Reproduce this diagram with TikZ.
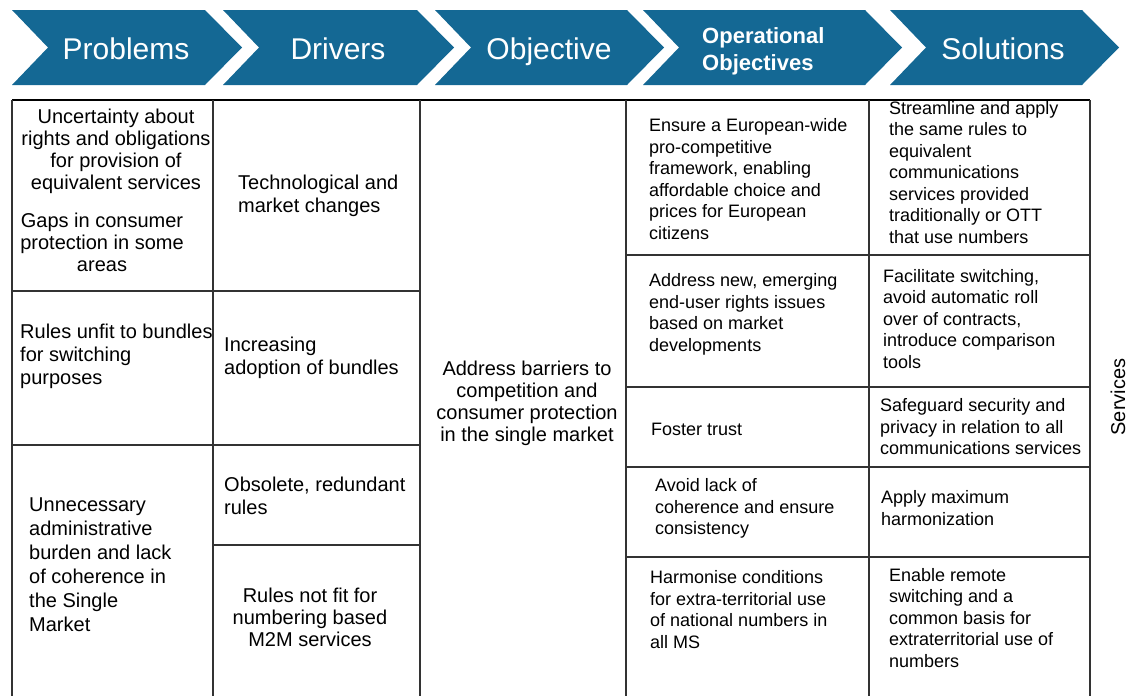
\documentclass[tikz,border=0pt]{standalone}
\usepackage{fontspec}
\setmainfont{Liberation Sans}
\usetikzlibrary{positioning}
\definecolor{chevblue}{RGB}{20,104,148}

\begin{document}
\begin{tikzpicture}[x=1pt,y=-1pt,every node/.style={inner sep=0pt},
  head/.style={text=white,anchor=base,font=\fontsize{30}{34}\selectfont},
  cell/.style={align=left,anchor=west,font=\fontsize{20}{23}\selectfont},
  cellc/.style={align=center,font=\fontsize{20}{22}\selectfont},
  small/.style={align=left,anchor=west,font=\fontsize{18}{21.5}\selectfont},
  rule/.style={draw=black!80,line width=1.1pt}]
\useasboundingbox (0,0) rectangle (1129,696);
% chevrons
\foreach \x/\w in {12/193,223/194,435/192,643/222,890/192}
  \fill[chevblue] (\x,10) -- ++(\w,0) -- ++(37,37.5) -- ++(-37,37.5)
    -- (\x,85) -- ++(36,-37.5) -- cycle;
\node[head] (problems) at (126,59) {Problems};
\node[head] (drivers) at (338,59) {Drivers};
\node[head] (objective) at (549,59) {Objective};
\node[head,font=\bfseries\fontsize{22}{27}\selectfont,align=left,anchor=west]
  (operational) at (702,51) {Operational\\Objectives};
\node[head] (solutions) at (1003,59) {Solutions};
% table
\draw[line width=2pt] (12,100) -- (1090,100);
\foreach \x in {12,213,420,626,869,1090}
  \draw[rule] (\x,100) -- (\x,696);
\foreach \y in {291,445}
  \draw[rule] (12,\y) -- (420,\y);
\draw[rule] (213,545) -- (420,545);
\foreach \y in {255,387,467,557}
  \draw[rule] (626,\y) -- (1090,\y);
% problems
\node[cellc] (uncert) at (116,151) {Uncertainty about\\rights and obligations\\for provision of\\equivalent services};
\node[cellc] (gaps) at (102,242) {Gaps in consumer\\protection in some\\areas};
\node[cell] (unfit) at (20,356) {Rules unfit to bundles\\for switching\\purposes};
\node[cell,font=\fontsize{20}{24}\selectfont] (unnec) at (29,565)
  {Unnecessary\\administrative\\burden and lack\\of coherence in\\the Single\\Market};
% drivers
\node[cell] (tech) at (238,196) {Technological and\\market changes};
\node[cell] (incr) at (224,358) {Increasing\\adoption of bundles};
\node[cell] (obsol) at (224,496) {Obsolete, redundant\\rules};
\node[cellc] (m2m) at (310,617) {Rules not fit for\\numbering based\\M2M services};
% objective
\node[cellc] (barriers) at (527,403) {Address barriers to\\competition and\\consumer protection\\in the single market};
% operational objectives
\node[small] (ensure) at (649,179) {Ensure a European-wide\\pro-competitive\\framework, enabling\\affordable choice and\\prices for European\\citizens};
\node[small] (addr) at (649,314.5) {Address new, emerging\\end-user rights issues\\based on market\\developments};
\node[small] (foster) at (651,429) {Foster trust};
\node[small] (avoid) at (655,508.5) {Avoid lack of\\coherence and ensure\\consistency};
\node[small] (harm) at (650,609.5) {Harmonise conditions\\for extra-territorial use\\of national numbers in\\all MS};
% solutions
\node[small] (stream) at (889,172.5) {Streamline and apply\\the same rules to\\equivalent\\communications\\services provided\\traditionally or OTT\\that use numbers};
\node[small] (facil) at (883,319) {Facilitate switching,\\avoid automatic roll\\over of contracts,\\introduce comparison\\tools};
\node[small] (safeg) at (880,427) {Safeguard security and\\privacy in relation to all\\communications services};
\node[small] (apply) at (881,508) {Apply maximum\\harmonization};
\node[small] (enable) at (889,618) {Enable remote\\switching and a\\common basis for\\extraterritorial use of\\numbers};
\node[rotate=90,font=\fontsize{20}{24}\selectfont] (services) at (1118,397) {Services};
\end{tikzpicture}
\end{document}
